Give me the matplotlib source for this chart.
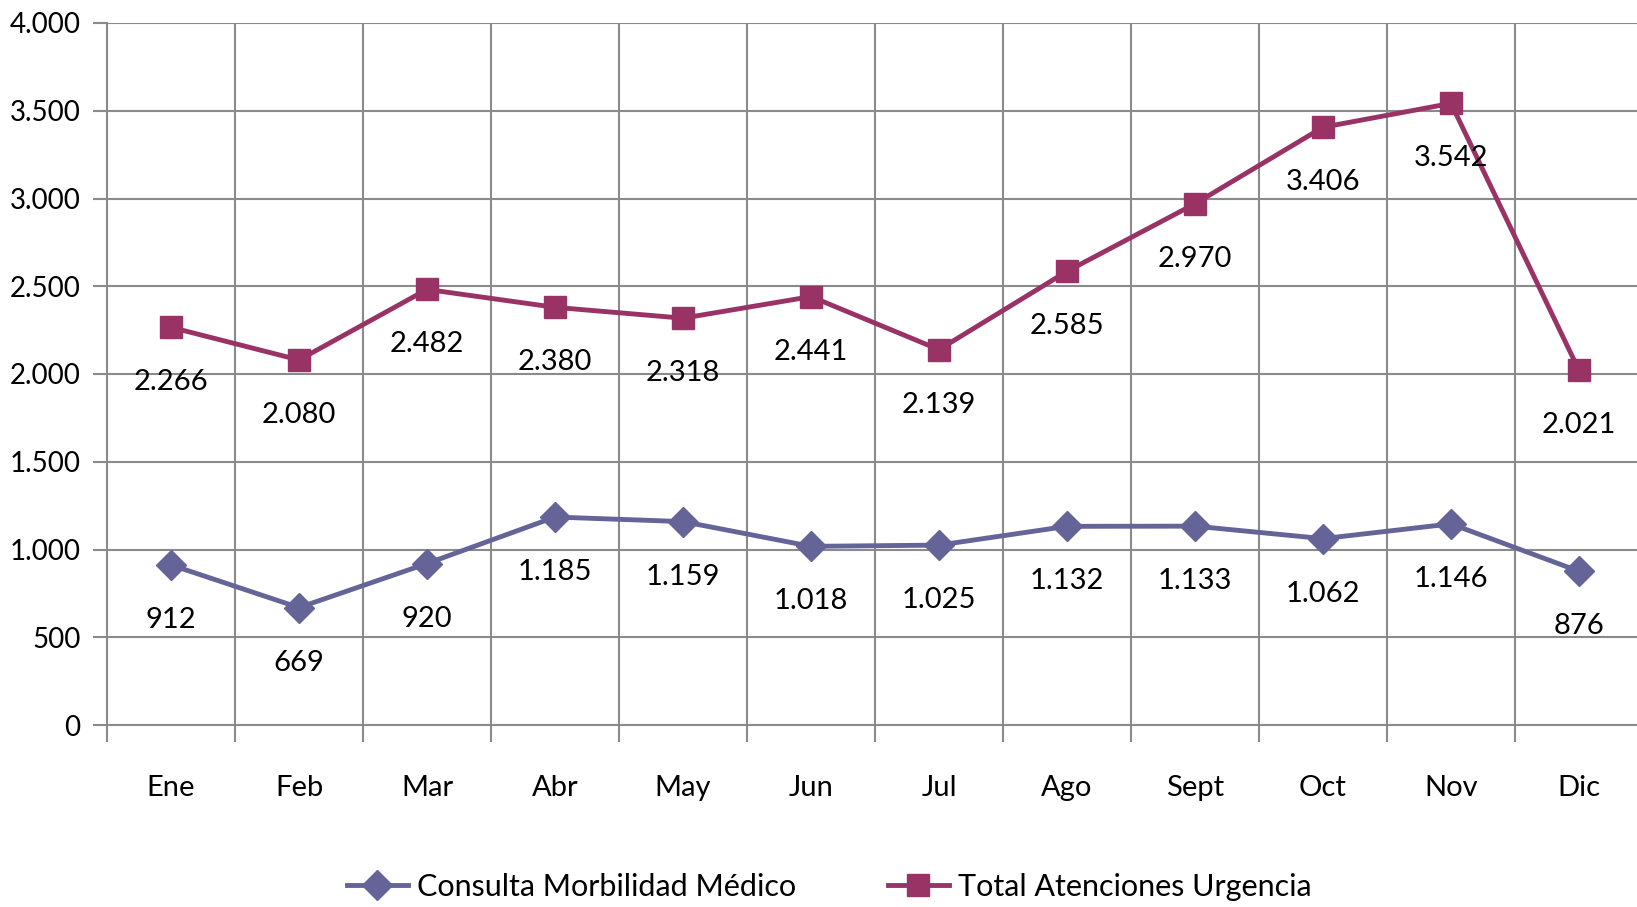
import matplotlib
matplotlib.use("Agg")
import matplotlib.pyplot as plt
from matplotlib.ticker import FuncFormatter, FixedLocator

plt.rcParams['font.family'] = ['Lato', 'DejaVu Sans']

meses = ['Ene', 'Feb', 'Mar', 'Abr', 'May', 'Jun', 'Jul', 'Ago', 'Sept', 'Oct', 'Nov', 'Dic']
consulta_morbilidad = [912, 669, 920, 1185, 1159, 1018, 1025, 1132, 1133, 1062, 1146, 876]
total_urgencia = [2266, 2080, 2482, 2380, 2318, 2441, 2139, 2585, 2970, 3406, 3542, 2021]

azul = '#646499'
granate = '#993366'
gris = '#8a8a8a'

def miles(v, pos=None):
    return f'{int(v):,}'.replace(',', '.')

fig = plt.figure(figsize=(16.37, 9.07), dpi=100)
ax = fig.add_axes([107 / 1637, 1 - 725 / 907, 1536 / 1637, 702 / 907])

x = list(range(len(meses)))
ax.plot(x, consulta_morbilidad, color=azul, lw=3.5, marker='D', ms=15,
        label='Consulta Morbilidad Médico', zorder=3)
ax.plot(x, total_urgencia, color=granate, lw=3.5, marker='s', ms=16.5,
        label='Total Atenciones Urgencia', zorder=3)

for serie in (consulta_morbilidad, total_urgencia):
    for xi, v in zip(x, serie):
        ax.annotate(miles(v), (xi, v), xytext=(0, -55), textcoords='offset pixels',
                    ha='center', va='center', fontsize=21, color='black', zorder=4)

ax.set_xlim(-0.5, len(meses) - 0.5)
ax.set_ylim(0, 4000)

ax.set_yticks(range(0, 4001, 500))
ax.yaxis.set_major_formatter(FuncFormatter(miles))
ax.set_xticks(x)
ax.set_xticklabels(meses)
ax.xaxis.set_minor_locator(FixedLocator([i - 0.5 for i in range(len(meses) + 1)]))

ax.tick_params(axis='y', which='major', length=10, width=1.5, color=gris, pad=9, labelsize=20)
ax.tick_params(axis='x', which='major', length=0, pad=36, labelsize=21)
ax.tick_params(axis='x', which='minor', length=12, width=1.5, color=gris)

ax.grid(True, axis='y', which='major', color=gris, lw=1.5)
ax.grid(True, axis='x', which='minor', color=gris, lw=1.5)
ax.set_axisbelow(True)

for lado in ('top', 'right'):
    ax.spines[lado].set_visible(False)
for lado in ('left', 'bottom'):
    ax.spines[lado].set_color(gris)
    ax.spines[lado].set_linewidth(1.5)

fig.legend(loc='center', bbox_to_anchor=(829 / 1637, 1 - 887 / 907), ncol=2, frameon=False,
           fontsize=22, handlelength=2.0, columnspacing=3.0, handletextpad=0.3)

fig.savefig('out.png', dpi=100)
